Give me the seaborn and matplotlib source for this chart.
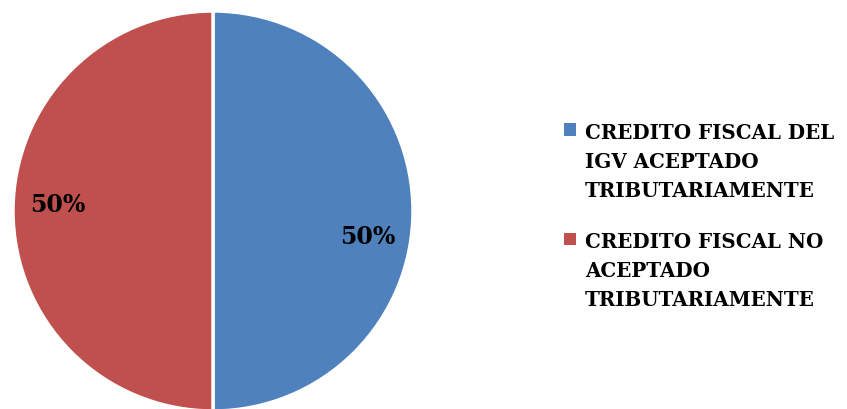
import matplotlib
matplotlib.use("Agg")
import matplotlib.pyplot as plt
import matplotlib.patches as mpatches
from matplotlib.legend_handler import HandlerPatch
import seaborn as sns

categories = [
    "CREDITO FISCAL DEL\nIGV ACEPTADO\nTRIBUTARIAMENTE",
    "CREDITO FISCAL NO\nACEPTADO\nTRIBUTARIAMENTE",
]
values = [50, 50]
colors = ["#4F81BD", "#C0504D"]

sns.set_theme(style="white")
plt.rcParams["font.family"] = ["DejaVu Serif"]

fig = plt.figure(figsize=(8.47, 4.10), dpi=100)
ax = fig.add_axes([13 / 847, -2 / 410, 400 / 847, 400 / 410])

wedges, texts, autotexts = ax.pie(
    values,
    colors=colors,
    startangle=90,
    counterclock=False,
    autopct="%1.0f%%",
    pctdistance=0.78,
    wedgeprops={"edgecolor": "white", "linewidth": 2.5},
    textprops={"fontsize": 17, "fontweight": "bold", "color": "black"},
)
autotexts[0].set_position((0.775, -0.125))
autotexts[1].set_position((-0.775, 0.035))
ax.set_xlim(-1, 1)
ax.set_ylim(-1, 1)
ax.set_aspect("equal")


# square marker placed next to the first line of a wrapped label
def top_square(legend, orig_handle, xdescent, ydescent, width, height, fontsize):
    return mpatches.Rectangle((-xdescent, -ydescent + 23), width, height)


leg = fig.legend(
    wedges,
    categories,
    loc="upper left",
    bbox_to_anchor=(556 / 847, 1 - 115 / 410),
    frameon=False,
    prop={"size": 14.3, "weight": "bold"},
    handlelength=0.6,
    handleheight=0.6,
    handletextpad=0.45,
    labelspacing=1.6,
    borderaxespad=0,
    handler_map={mpatches.Wedge: HandlerPatch(patch_func=top_square)},
)
for h in leg.legend_handles:
    h.set_edgecolor("none")
for t in leg.get_texts():
    t.set_linespacing(1.55)
    t.set_color("black")

plt.savefig("out.png", dpi=100)
